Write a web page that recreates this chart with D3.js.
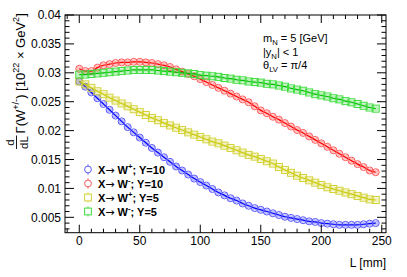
<!DOCTYPE html>
<html>
<head>
<meta charset="utf-8">
<script src="https://cdn.jsdelivr.net/npm/d3@7"></script>
<style>
  html, body { margin: 0; padding: 0; background: #fff; }
  svg { display: block; font-family: "Liberation Sans", Arial, sans-serif; }
</style>
</head>
<body>
<svg id="chart" width="407" height="277"></svg>
<script>
// decay length L [mm]
const lengths = [0, 5, 10, 15, 20, 25, 30, 35, 40, 45, 50, 55, 60, 65, 70, 75, 80, 85, 90, 95,
  100, 105, 110, 115, 120, 125, 130, 135, 140, 145, 150, 155, 160, 165, 170, 175, 180, 185, 190, 195,
  200, 205, 210, 215, 220, 225, 230, 235, 240, 245];

const wPlusY10 = [0.0285, 0.0276, 0.0266, 0.0256, 0.0246, 0.0236, 0.0226, 0.0216, 0.0206, 0.0197,
  0.0188, 0.0179, 0.0170, 0.0162, 0.0154, 0.0146, 0.0138, 0.0131, 0.0124, 0.0117,
  0.0111, 0.0105, 0.0099, 0.0093, 0.0088, 0.0083, 0.0079, 0.0074, 0.0070, 0.0066,
  0.0063, 0.0060, 0.0057, 0.0054, 0.0051, 0.0049, 0.0047, 0.0045, 0.0043, 0.0042,
  0.0040, 0.0039, 0.0038, 0.0037, 0.0037, 0.0037, 0.0037, 0.0038, 0.0039, 0.0040];

const wMinusY10 = [0.0307, 0.0303, 0.0303, 0.0309, 0.0313, 0.0315, 0.0317, 0.0318, 0.0318, 0.0319,
  0.0319, 0.0318, 0.0317, 0.0315, 0.0313, 0.0310, 0.0306, 0.0302, 0.0298, 0.0294,
  0.0289, 0.0284, 0.0279, 0.0274, 0.0269, 0.0264, 0.0259, 0.0254, 0.0249, 0.0242,
  0.0235, 0.0230, 0.0224, 0.0219, 0.0213, 0.0207, 0.0201, 0.0196, 0.0190, 0.0184,
  0.0178, 0.0172, 0.0166, 0.0160, 0.0154, 0.0148, 0.0142, 0.0137, 0.0131, 0.0128];

const wPlusY5 = [0.0285, 0.0280, 0.0274, 0.0268, 0.0263, 0.0257, 0.0252, 0.0247, 0.0242, 0.0237,
  0.0232, 0.0227, 0.0222, 0.0218, 0.0213, 0.0209, 0.0205, 0.0201, 0.0197, 0.0193,
  0.0189, 0.0185, 0.0181, 0.0178, 0.0174, 0.0170, 0.0166, 0.0162, 0.0158, 0.0155,
  0.0151, 0.0147, 0.0143, 0.0137, 0.0132, 0.0127, 0.0122, 0.0118, 0.0114, 0.0110,
  0.0106, 0.0102, 0.0099, 0.0096, 0.0093, 0.0090, 0.0087, 0.0084, 0.0081, 0.0080];

const wMinusY5 = [0.0297, 0.0297, 0.0298, 0.0299, 0.0300, 0.0301, 0.0302, 0.0303, 0.0304, 0.0305,
  0.0305, 0.0305, 0.0305, 0.0304, 0.0303, 0.0302, 0.0301, 0.0300, 0.0299, 0.0298,
  0.0296, 0.0295, 0.0294, 0.0293, 0.0291, 0.0290, 0.0288, 0.0287, 0.0285, 0.0284,
  0.0283, 0.0281, 0.0280, 0.0278, 0.0276, 0.0273, 0.0271, 0.0269, 0.0266, 0.0263,
  0.0261, 0.0259, 0.0256, 0.0254, 0.0251, 0.0249, 0.0246, 0.0243, 0.0240, 0.0238];

const seriesNames = ["W+Y10", "W-Y10", "W+Y5", "W-Y5"];
const seriesValues = [wPlusY10, wMinusY10, wPlusY5, wMinusY5];
const seriesSign = ["+", "-", "+", "-"];
const seriesY = ["10", "10", "5", "5"];
const seriesMarker = ["circle", "circle", "square", "square"];
const lineColors = ["#0000ff", "#ff0000", "#c8c800", "#00c000"];
const markColors = ["#5a5aff", "#ff5a5a", "#d2d235", "#3ddd3d"];

const xTicks = [0, 50, 100, 150, 200, 250];
const yTicks = [0.005, 0.01, 0.015, 0.02, 0.025, 0.03, 0.035, 0.04];

let marginLeft = 65, marginRight = 21, marginTop = 15, marginBottom = 44.3;
let width = 407, height = 277;

let svg = d3.select("#chart");
let x = d3.scaleLinear([-11.8, 253.5], [marginLeft, width - marginRight]);
let y = d3.scaleLinear([0.00234, 0.04], [height - marginBottom, marginTop]);
let x0 = marginLeft, x1 = width - marginRight, y0 = height - marginBottom, y1 = marginTop;

// rich text helper: parts = [[text, "n"|"sup"|"sub"], ...]
function richText(t, parts, fs) {
    let shift = 0;
    parts.forEach(([s, mode]) => {
        let target = mode === "sup" ? -0.4 * fs : mode === "sub" ? 0.3 * fs : 0;
        t.append("tspan")
            .attr("dy", target - shift)
            .attr("font-size", mode === "n" ? fs : fs * 0.7)
            .text(s);
        shift = target;
    });
}

// bands, lines, markers
let bandW = x(5) - x(0);
seriesValues.forEach((vals, i) => {
    let g = svg.append("g").attr("class", "series-" + i);
    g.selectAll("rect.band")
        .data(vals)
        .join("rect")
        .attr("class", "band")
        .attr("x", (d, j) => x(lengths[j]) - bandW / 2)
        .attr("y", d => y(d) - 2.5)
        .attr("width", bandW)
        .attr("height", 5)
        .attr("fill", lineColors[i])
        .attr("opacity", 0.25);
    let line = d3.line()
        .x((d, j) => x(lengths[j]))
        .y(d => y(d))
        .curve(d3.curveMonotoneX);
    g.append("path")
        .attr("d", line(vals))
        .attr("fill", "none")
        .attr("stroke", lineColors[i])
        .attr("stroke-width", 1.2);
    if (seriesMarker[i] === "circle") {
        g.selectAll("circle")
            .data(vals)
            .join("circle")
            .attr("cx", (d, j) => x(lengths[j]))
            .attr("cy", d => y(d))
            .attr("r", 3.5)
            .attr("fill", "none")
            .attr("stroke", markColors[i])
            .attr("stroke-width", 1);
    } else {
        g.selectAll("rect.mk")
            .data(vals)
            .join("rect")
            .attr("class", "mk")
            .attr("x", (d, j) => x(lengths[j]) - 3.5)
            .attr("y", d => y(d) - 3.5)
            .attr("width", 7)
            .attr("height", 7)
            .attr("fill", "none")
            .attr("stroke", markColors[i])
            .attr("stroke-width", 1);
    }
});

// frame
svg.append("rect")
    .attr("x", x0).attr("y", y1)
    .attr("width", x1 - x0).attr("height", y0 - y1)
    .attr("fill", "none").attr("stroke", "#000").attr("stroke-width", 1);

// ticks on all four sides
let axes = svg.append("g").attr("stroke", "#000").attr("stroke-width", 1);
let xMinor = d3.range(-10, 251, 10);
let yMinor = d3.range(0.003, 0.04001, 0.001);
xMinor.forEach(v => {
    let len = xTicks.includes(v) ? 8 : 4;
    axes.append("line").attr("x1", x(v)).attr("x2", x(v)).attr("y1", y0).attr("y2", y0 - len);
    axes.append("line").attr("x1", x(v)).attr("x2", x(v)).attr("y1", y1).attr("y2", y1 + len);
});
yMinor.forEach(v => {
    let major = yTicks.some(t => Math.abs(t - v) < 1e-6);
    let len = major ? 9 : 4.5;
    axes.append("line").attr("x1", x0).attr("x2", x0 + len).attr("y1", y(v)).attr("y2", y(v));
    axes.append("line").attr("x1", x1).attr("x2", x1 - len).attr("y1", y(v)).attr("y2", y(v));
});

// tick labels
svg.append("g").selectAll("text")
    .data(xTicks)
    .join("text")
    .attr("x", d => x(d))
    .attr("y", 244.5)
    .attr("text-anchor", "middle")
    .attr("font-size", 12)
    .text(d => d);
svg.append("g").selectAll("text")
    .data(yTicks)
    .join("text")
    .attr("x", 61)
    .attr("y", d => y(d) + 4.3)
    .attr("text-anchor", "end")
    .attr("font-size", 12)
    .text(d => +d.toFixed(3));

// x title
svg.append("text")
    .attr("x", x1).attr("y", 266.5)
    .attr("text-anchor", "end")
    .attr("font-size", 12)
    .text("L [mm]");

// y title: d/dL Γ(W^{+/-}) [10^{22} × GeV^2]
let yt = svg.append("g").attr("transform", "translate(24.5,150) rotate(-90)");
yt.append("text").attr("x", 7.5).attr("y", -10.5).attr("text-anchor", "middle").attr("font-size", 11.5).text("d");
yt.append("line").attr("x1", 1).attr("x2", 14.5).attr("y1", -8).attr("y2", -8).attr("stroke", "#000").attr("stroke-width", 0.9);
yt.append("text").attr("x", 7.5).attr("y", 3).attr("text-anchor", "middle").attr("font-size", 11.5).text("dL");
richText(yt.append("text").attr("x", 16.5).attr("y", 0), [
    ["Γ(W", "n"], ["+/-", "sup"], [") [10", "n"], ["22", "sup"], [" × GeV", "n"], ["2", "sup"], ["]", "n"]
], 13);

// legend
seriesNames.forEach((name, i) => {
    let cy = 169.5 + i * 14;
    let g = svg.append("g");
    g.append("line")
        .attr("x1", 88).attr("x2", 88).attr("y1", cy - 5).attr("y2", cy + 5)
        .attr("stroke", markColors[i]).attr("stroke-width", 1);
    if (seriesMarker[i] === "circle") {
        g.append("circle").attr("cx", 88).attr("cy", cy).attr("r", 3.4)
            .attr("fill", "#fff").attr("stroke", markColors[i]).attr("stroke-width", 1);
    } else {
        g.append("rect").attr("x", 84.6).attr("y", cy - 3.4).attr("width", 6.8).attr("height", 6.8)
            .attr("fill", "#fff").attr("stroke", markColors[i]).attr("stroke-width", 1);
    }
    let t = g.append("text").attr("x", 98).attr("y", cy + 4).attr("font-size", 11).attr("font-weight", "bold");
    t.append("tspan").text("X");
    t.append("tspan").attr("font-family", "DejaVu Sans").attr("font-weight", "normal").text("\u2192");
    richText(t, [[" W", "n"], [seriesSign[i], "sup"], ["; Y=" + seriesY[i], "n"]], 11);
});

// annotations
richText(svg.append("text").attr("x", 263).attr("y", 42), [["m", "n"], ["N", "sub"], [" =  5 [GeV]", "n"]], 11);
richText(svg.append("text").attr("x", 263).attr("y", 55.5), [["|y", "n"], ["N", "sub"], ["| < 1", "n"]], 11);
richText(svg.append("text").attr("x", 263).attr("y", 69), [["\u03b8", "n"], ["LV", "sub"], [" = \u03c0/4", "n"]], 11);
</script>
</body>
</html>
